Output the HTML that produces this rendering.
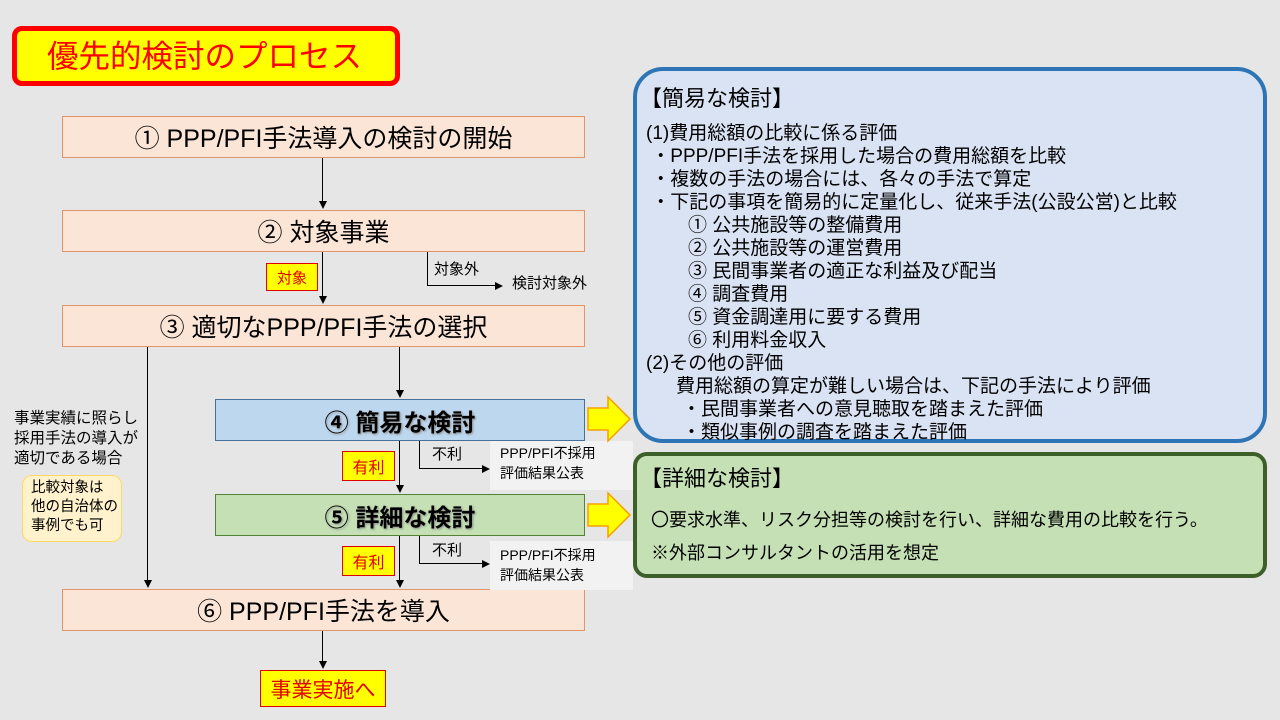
<!DOCTYPE html>
<html><head><meta charset="utf-8"><style>
body{margin:0;width:1280px;height:720px;background:#e7e6e6;position:relative;overflow:hidden;font-family:"Liberation Sans","Noto Sans CJK JP",sans-serif;color:#000}
.a{position:absolute;box-sizing:border-box}
.box{position:absolute;box-sizing:border-box;display:flex;align-items:center;justify-content:center;font-size:25px}
.pe{background:#fbe5d6;border:1px solid #e0946a}
.vl{position:absolute;width:0;border-left:1.5px solid #000}
.hl{position:absolute;height:0;border-top:1.5px solid #000}
.ad{position:absolute;width:0;height:0;border-left:4px solid transparent;border-right:4px solid transparent;border-top:8px solid #000}
.ar{position:absolute;width:0;height:0;border-top:4px solid transparent;border-bottom:4px solid transparent;border-left:8px solid #000}
.lab{position:absolute;box-sizing:border-box;background:#ffff00;border:1px solid #e00000;color:#e00000;display:flex;align-items:center;justify-content:center}
.t{position:absolute;white-space:nowrap;font-size:19px;line-height:23px}
</style></head><body>
<div class="a" style="left:12px;top:26px;width:388px;height:60px;background:#ffff00;border:5px solid #ff0000;border-radius:10px"></div>
<div class="t" style="left:47px;top:35px;font-size:31.5px;line-height:42px;color:#ff0000">優先的検討のプロセス</div>

<div class="box pe" style="left:62px;top:116px;width:523px;height:42px">① PPP/PFI手法導入の検討の開始</div>
<div class="box pe" style="left:62px;top:210px;width:523px;height:42px">② 対象事業</div>
<div class="box pe" style="left:62px;top:305px;width:523px;height:42px">③ 適切なPPP/PFI手法の選択</div>
<div class="box" style="left:215px;top:399px;width:370px;height:42px;background:#bdd7ee;border:1px solid #41719c;font-weight:bold;font-size:24px;text-shadow:1px 1px 2px #888">④ 簡易な検討</div>
<div class="box" style="left:215px;top:494px;width:370px;height:42px;background:#c5e0b4;border:1px solid #548235;font-weight:bold;font-size:24px;text-shadow:1px 1px 2px #888">⑤ 詳細な検討</div>
<div class="box pe" style="left:62px;top:589px;width:523px;height:42px">⑥ PPP/PFI手法を導入</div>
<div class="lab" style="left:260px;top:670px;width:126px;height:37px;font-size:21px">事業実施へ</div>

<div class="vl" style="left:322px;top:158px;height:44px"></div><div class="ad" style="left:319px;top:201px"></div>
<div class="vl" style="left:322px;top:252px;height:45px"></div><div class="ad" style="left:319px;top:296px"></div>
<div class="vl" style="left:399px;top:347px;height:44px"></div><div class="ad" style="left:396px;top:390px"></div>
<div class="vl" style="left:399px;top:441px;height:45px"></div><div class="ad" style="left:396px;top:485px"></div>
<div class="vl" style="left:399px;top:536px;height:45px"></div><div class="ad" style="left:396px;top:580px"></div>
<div class="vl" style="left:147px;top:347px;height:234px"></div><div class="ad" style="left:144px;top:580px"></div>
<div class="vl" style="left:322px;top:631px;height:31px"></div><div class="ad" style="left:319px;top:661px"></div>

<div class="lab" style="left:266px;top:263px;width:52px;height:28px;font-size:15px">対象</div>
<div class="vl" style="left:427px;top:252px;height:34px"></div><div class="hl" style="left:427px;top:285px;width:68px"></div><div class="ar" style="left:495px;top:282px"></div>
<div class="t" style="left:434px;top:260px;font-size:15px;line-height:20px">対象外</div>
<div class="t" style="left:512px;top:274px;font-size:15px;line-height:20px">検討対象外</div>

<div class="lab" style="left:342px;top:451px;width:53px;height:30px;font-size:16px">有利</div>
<div class="lab" style="left:342px;top:546px;width:53px;height:30px;font-size:16px">有利</div>
<div class="vl" style="left:419px;top:441px;height:28px"></div><div class="hl" style="left:419px;top:468px;width:63px"></div><div class="ar" style="left:482px;top:465px"></div>
<div class="vl" style="left:419px;top:536px;height:28px"></div><div class="hl" style="left:419px;top:563px;width:63px"></div><div class="ar" style="left:482px;top:560px"></div>
<div class="t" style="left:432px;top:445px;font-size:15px;line-height:20px">不利</div>
<div class="t" style="left:432px;top:541px;font-size:15px;line-height:20px">不利</div>
<div class="a" style="left:490px;top:441px;width:143px;height:49px;background:#f2f2f2"></div>
<div class="t" style="left:500px;top:443px;font-size:14px;line-height:20px">PPP/PFI不採用<br>評価結果公表</div>
<div class="a" style="left:490px;top:541px;width:143px;height:49px;background:#f2f2f2"></div>
<div class="t" style="left:500px;top:545px;font-size:14px;line-height:20px">PPP/PFI不採用<br>評価結果公表</div>

<div class="t" style="left:14px;top:409px;font-size:15.5px;line-height:20px">事業実績に照らし<br>採用手法の導入が<br>適切である場合</div>
<div class="a" style="left:22px;top:475px;width:100px;height:67px;background:#fff2cc;border:1px solid #ffd966;border-radius:10px"></div>
<div class="t" style="left:31px;top:479px;font-size:14.5px;line-height:19px">比較対象は<br>他の自治体の<br>事例でも可</div>

<svg class="a" style="left:586px;top:395px" width="48" height="150">
<polygon points="2,13 22,13 22,2 44,24 22,46 22,35 2,35" fill="#ffff00" stroke="#f4a000" stroke-width="1.5"/>
<polygon points="2,109 22,109 22,98 44,120 22,142 22,131 2,131" fill="#ffff00" stroke="#f4a000" stroke-width="1.5"/>
</svg>

<div class="a" style="left:633px;top:67px;width:634px;height:376px;background:#dae3f3;border:4px solid #2e75b6;border-radius:30px"></div>
<div class="t" style="left:640px;top:85px;font-size:22px;line-height:28px">【簡易な検討】</div>
<div class="t" style="left:646px;top:122px">(1)費用総額の比較に係る評価<br>
&nbsp;・PPP/PFI手法を採用した場合の費用総額を比較<br>
&nbsp;・複数の手法の場合には、各々の手法で算定<br>
&nbsp;・下記の事項を簡易的に定量化し、従来手法(公設公営)と比較<br>
<span style="padding-left:42px">① 公共施設等の整備費用</span><br>
<span style="padding-left:42px">② 公共施設等の運営費用</span><br>
<span style="padding-left:42px">③ 民間事業者の適正な利益及び配当</span><br>
<span style="padding-left:42px">④ 調査費用</span><br>
<span style="padding-left:42px">⑤ 資金調達用に要する費用</span><br>
<span style="padding-left:42px">⑥ 利用料金収入</span><br>
(2)その他の評価<br>
<span style="padding-left:30px">費用総額の算定が難しい場合は、下記の手法により評価</span><br>
<span style="padding-left:36px">・民間事業者への意見聴取を踏まえた評価</span><br>
<span style="padding-left:36px">・類似事例の調査を踏まえた評価</span></div>

<div class="a" style="left:633px;top:452px;width:634px;height:126px;background:#c5e0b4;border:4px solid #3d5f2a;border-radius:14px"></div>
<div class="t" style="left:640px;top:465px;font-size:22px;line-height:28px">【詳細な検討】</div>
<div class="t" style="left:651px;top:509px;font-size:18px">〇要求水準、リスク分担等の検討を行い、詳細な費用の比較を行う。</div>
<div class="t" style="left:651px;top:542px;font-size:18px">※外部コンサルタントの活用を想定</div>
</body></html>
